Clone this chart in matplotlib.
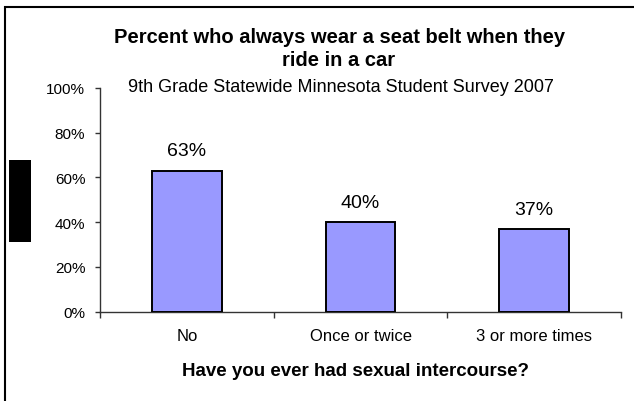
import matplotlib
matplotlib.use("Agg")
import matplotlib.pyplot as plt
from matplotlib.patches import Rectangle

categories = ["No", "Once or twice", "3 or more times"]
values = [63, 40, 37]
value_labels = ["63%", "40%", "37%"]
yticks = [0, 20, 40, 60, 80, 100]
title_line1 = "Percent who always wear a seat belt when they"
title_line2 = "ride in a car"
subtitle = "9th Grade Statewide Minnesota Student Survey 2007"
xlabel = "Have you ever had sexual intercourse?"

W, H = 634, 402
plt.rcParams['font.family'] = ['Liberation Sans', 'DejaVu Sans']
fig = plt.figure(figsize=(W / 100, H / 100), dpi=100)

def fx(px):
    return px / W

def fy(py):
    return 1 - py / H

ax = fig.add_axes([fx(100), fy(312.7), fx(621) - fx(100), fy(88.7) - fy(312.7)])
x = list(range(len(categories)))
ax.bar(x, values, width=0.40, color="#9999FF", edgecolor="black", linewidth=1.4, zorder=3)
ax.set_xlim(-0.5, 2.5)
ax.set_ylim(0, 100)
ax.set_yticks(yticks)
ax.set_yticklabels([f"{v}%" for v in yticks], fontsize=11)
ax.set_xticks([-0.5, 0.5, 1.5, 2.5])
ax.set_xticklabels([])
ax.set_xticks(x, minor=True)
ax.set_xticklabels(categories, minor=True, fontsize=12)
ax.tick_params(axis='x', which='minor', length=0, pad=11.5)
ax.tick_params(axis='x', which='major', length=4, direction='out', color='#333333', width=1)
ax.tick_params(axis='y', length=3.6, direction='out', color='#333333', width=1, pad=7)
for s in ["top", "right"]:
    ax.spines[s].set_visible(False)
for s in ["left", "bottom"]:
    ax.spines[s].set_color("#333333")
    ax.spines[s].set_linewidth(1)

for xi, v, lab in zip(x, values, value_labels):
    ax.annotate(lab, (xi, v), xytext=(0, 11), textcoords="offset points",
                ha="center", va="baseline", fontsize=14)

ax.set_xlabel(xlabel, fontsize=13.5, fontweight="bold", va="baseline")
ax.xaxis.set_label_coords((356 - 100) / 521, (312.7 - 376) / 224)

fig.text(fx(340), fy(43), title_line1, ha="center", va="baseline", fontsize=14.5,
         fontweight="bold")
fig.text(fx(339), fy(66), title_line2, ha="center", va="baseline", fontsize=14.5,
         fontweight="bold")
fig.text(fx(341), fy(92), subtitle, ha="center", va="baseline", fontsize=13)

# outer frame
fig.patches.append(Rectangle((fx(4.5), -0.1), 1.2, fy(8) + 0.1, transform=fig.transFigure,
                             fill=False, edgecolor="black", linewidth=1.5))
# black box on the left
fig.patches.append(Rectangle((fx(9), fy(243)), fx(31) - fx(9), fy(161) - fy(243),
                             transform=fig.transFigure, facecolor="black", edgecolor="none"))

fig.savefig("out.png", dpi=100)
